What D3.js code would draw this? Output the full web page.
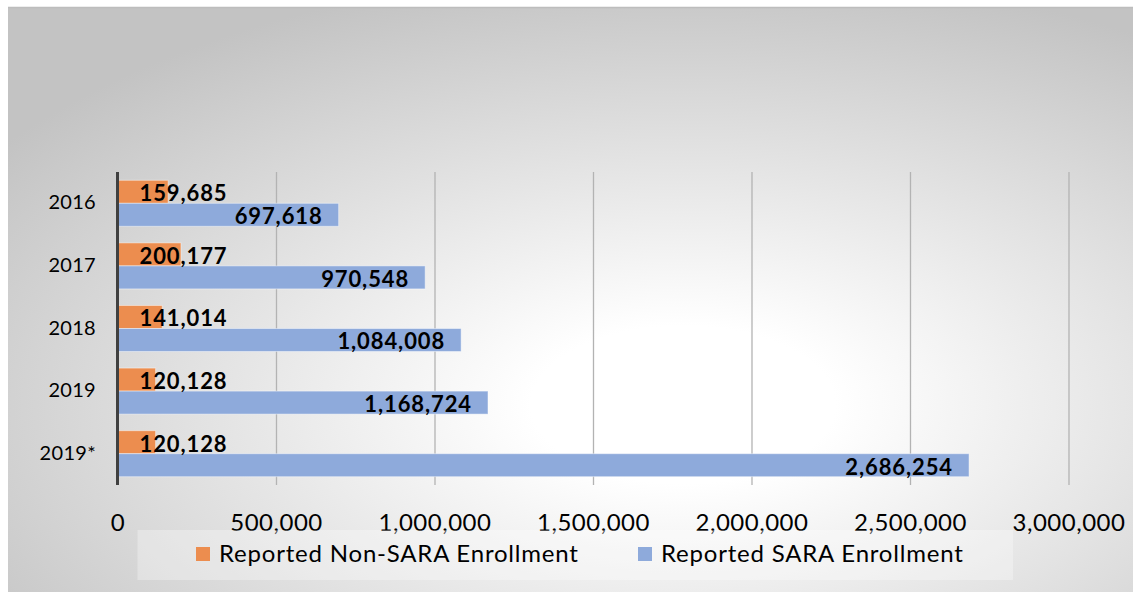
<!DOCTYPE html>
<meta charset="utf-8">
<script src="https://d3js.org/d3.v7.min.js"></script>
<style>
  body { margin: 0; background: #fff; }
  text { font-family: Lato, "Open Sans", sans-serif; }
</style>
<body>
<div id="my_dataviz"></div>
<script>
var width = 1133,
    height = 592

// data
var categories = ["2016", "2017", "2018", "2019", "2019*"]
var nonSara = [159685, 200177, 141014, 120128, 120128]
var sara = [697618, 970548, 1084008, 1168724, 2686254]
var tickValues = [0, 500000, 1000000, 1500000, 2000000, 2500000, 3000000]
var seriesNames = ["Reported Non-SARA Enrollment", "Reported SARA Enrollment"]
var seriesColors = ["#ec8d4f", "#8eaadb"]

var plotTop = 172, plotBottom = 485

var svg = d3.select("#my_dataviz")
    .append("svg")
    .attr("width", width)
    .attr("height", height)

// background panel with radial fade
var defs = svg.append("defs")
var grad = defs.append("radialGradient")
    .attr("id", "bg")
    .attr("cx", 0.6).attr("cy", 0.68).attr("r", 0.75)
grad.append("stop").attr("offset", "0").attr("stop-color", "#ffffff")
grad.append("stop").attr("offset", "0.18").attr("stop-color", "#ffffff")
grad.append("stop").attr("offset", "1").attr("stop-color", "#c3c3c3")

svg.append("rect")
    .attr("x", 8).attr("y", 7)
    .attr("width", width - 8).attr("height", height - 7)
    .attr("fill", "url(#bg)")
svg.append("line")
    .attr("x1", 8).attr("x2", width)
    .attr("y1", 7.5).attr("y2", 7.5)
    .attr("stroke", "#bdbdbd")
    .attr("stroke-width", 1.5)

var x = d3.scaleLinear()
    .domain([0, 3000000])
    .range([117.5, 1068.5])

var y = d3.scaleBand()
    .domain(categories)
    .range([plotTop, plotBottom])
    .paddingInner(0.265)
    .paddingOuter(0.1325)

var ySub = d3.scaleBand()
    .domain([0, 1])
    .range([0, y.bandwidth()])

// grid + tick labels
var xAxis = svg.append("g")
    .attr("transform", "translate(0," + plotBottom + ")")
    .call(d3.axisBottom(x)
        .tickValues(tickValues)
        .tickSize(-(plotBottom - plotTop))
        .tickPadding(29)
        .tickFormat(d3.format(",")))
xAxis.select(".domain").remove()
xAxis.selectAll("line")
    .attr("stroke", "#b3b3b3")
    .attr("stroke-width", 1.3)
    .filter(function(d) { return d === 0 })
    .remove()
xAxis.selectAll("text")
    .style("font-size", "24px")
    .style("letter-spacing", "0.5px")
    .attr("fill", "#000")

// category labels
svg.selectAll("yLabels")
    .data(categories)
    .enter()
    .append("text")
    .attr("x", 96)
    .attr("y", function(d) { return y(d) + y.bandwidth() / 2 - 1 })
    .attr("dy", "0.35em")
    .attr("text-anchor", "end")
    .style("font-size", "20px")
    .style("letter-spacing", "0.3px")
    .text(function(d) { return d })

var rows = categories.map(function(c, i) {
    return {cat: c, values: [nonSara[i], sara[i]]}
})

var groups = svg.selectAll("groups")
    .data(rows)
    .enter()
    .append("g")
    .attr("transform", function(d) { return "translate(0," + y(d.cat) + ")" })

groups.selectAll("rect")
    .data(function(d) { return d.values.map(function(v, k) { return {k: k, v: v} }) })
    .enter()
    .append("rect")
    .attr("x", x(0))
    .attr("y", function(d) { return ySub(d.k) })
    .attr("width", function(d) { return x(d.v) - x(0) })
    .attr("height", ySub.bandwidth())
    .attr("fill", function(d) { return seriesColors[d.k] })
    .attr("stroke", "rgba(255,255,255,0.45)")
    .attr("stroke-width", 1)

// data labels
groups.selectAll("labels")
    .data(function(d) { return d.values.map(function(v, k) { return {k: k, v: v} }) })
    .enter()
    .append("text")
    .attr("x", function(d) { return d.k === 0 ? x(0) + 22 : x(d.v) - 16 })
    .attr("y", function(d) { return ySub(d.k) + ySub.bandwidth() / 2 + 1.5 })
    .attr("dy", "0.36em")
    .attr("text-anchor", function(d) { return d.k === 0 ? "start" : "end" })
    .style("font-size", "22px")
    .style("font-weight", "bold")
    .style("letter-spacing", "0.9px")
    .text(function(d) { return d3.format(",")(d.v) })

// vertical axis line
svg.append("line")
    .attr("x1", x(0)).attr("x2", x(0))
    .attr("y1", plotTop).attr("y2", plotBottom)
    .attr("stroke", "#404040")
    .attr("stroke-width", 3)

// legend
svg.append("rect")
    .attr("x", 137.5).attr("y", 530)
    .attr("width", 875.5).attr("height", 50)
    .attr("fill", "#ffffff")
    .attr("fill-opacity", 0.3)

var legendX = [196, 638]
var legend = svg.selectAll("legend")
    .data(seriesNames)
    .enter()
    .append("g")
    .attr("transform", function(d, i) { return "translate(" + legendX[i] + ",547)" })
legend.append("rect")
    .attr("width", 14).attr("height", 14)
    .attr("fill", function(d, i) { return seriesColors[i] })
legend.append("text")
    .attr("x", 23)
    .attr("y", 7)
    .attr("dy", "0.35em")
    .style("font-size", "24px")
    .style("letter-spacing", "0.8px")
    .text(function(d) { return d })
</script>
</body>
